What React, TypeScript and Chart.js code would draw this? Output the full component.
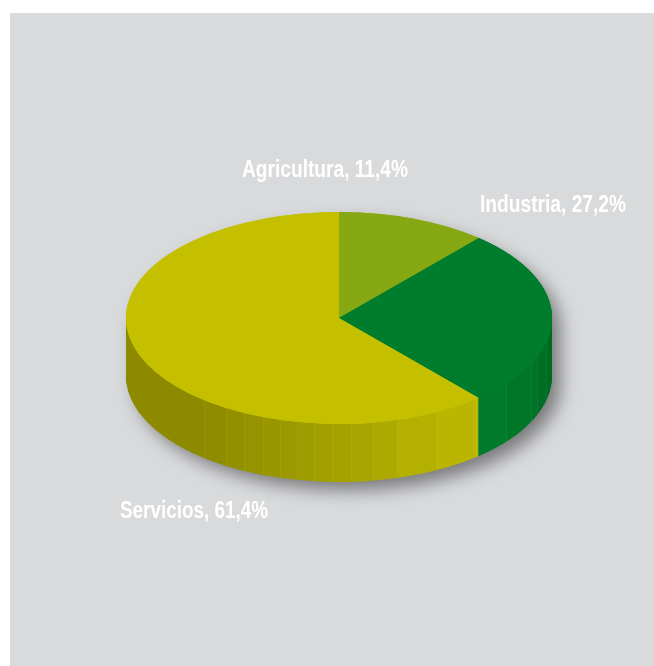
import React, { useEffect, useRef } from "react";
import { Chart, registerables } from "chart.js";

Chart.register(...registerables);

const categories = ["Agricultura", "Industria", "Servicios"];
const shares = [11.4, 27.2, 61.4];
const topColors = ["#86A812", "#007C2D", "#C4C000"];

// Style: faceted wall shades of each slice, as [x pixel where the facet ends, colour].
const yellowFacets: [number, string][] = [
  [205, "#8E8A00"], [227, "#908C00"], [245, "#939000"], [264, "#969300"],
  [281, "#999600"], [298, "#9C9900"], [315, "#9F9C00"], [333, "#A29F00"],
  [352, "#A5A200"], [374, "#A8A500"], [398, "#ACA900"], [438, "#B3B000"],
  [477, "#B9B500"], [552, "#BFBB00"],
];
const greenFacets: [number, string][] = [
  [507, "#007A2B"], [532, "#007629"], [538, "#007126"], [547, "#006E25"], [552, "#006A23"],
];

const WIDTH = 654;
const HEIGHT = 666;
const SQUASH = 0.498;
const DEPTH = 58;
const WALL_LEFT = 126;
const WALL_RIGHT = 552;

const labelPlacement = [
  { x: 242, y: 177, w: 166 },
  { x: 480, y: 212, w: 146 },
  { x: 120, y: 518, w: 148 },
];

const formatShare = (v: number) => `${v.toFixed(1).replace(".", ",")}%`;

const lighten = (hex: string) => {
  const n = parseInt(hex.slice(1), 16);
  const ch = (s: number) => Math.min(255, ((n >> s) & 255) + 9);
  return `rgb(${ch(16)},${ch(8)},${ch(0)})`;
};

const makeWall = (ctx: CanvasRenderingContext2D, facets: [number, string][]) => {
  const span = WALL_RIGHT - WALL_LEFT;
  const g = ctx.createLinearGradient(WALL_LEFT, 0, WALL_RIGHT, 0);
  let from = 0;
  facets.forEach(([end, colour], i) => {
    const to = Math.max(0, Math.min(1, (end - WALL_LEFT) / span));
    const seam = i < facets.length - 1 ? Math.max(from, to - 1 / span) : to;
    g.addColorStop(from, colour);
    g.addColorStop(seam, colour);
    if (seam < to) {
      g.addColorStop(seam, lighten(colour));
      g.addColorStop(to, lighten(colour));
    }
    from = to;
  });
  return g;
};

const pie3d = {
  id: "pie3d",
  beforeDatasetsDraw(chart: any) {
    const ctx: CanvasRenderingContext2D = chart.ctx;
    const arcs: any[] = chart.getDatasetMeta(0).data;
    const { x: cx, y: cy, outerRadius: r } = arcs[0];
    const ry = r * SQUASH;

    // Soft drop shadow of the whole body, falling to the lower right.
    ctx.save();
    ctx.shadowColor = "rgba(0,0,0,0.45)";
    ctx.shadowBlur = 18;
    ctx.shadowOffsetX = 9;
    ctx.shadowOffsetY = 9;
    ctx.fillStyle = "#8E8A00";
    ctx.beginPath();
    ctx.ellipse(cx, cy + 1, r - 1, ry - 1, 0, Math.PI, 2 * Math.PI);
    ctx.ellipse(cx, cy + DEPTH, r - 1, ry - 1, 0, 0, Math.PI);
    ctx.closePath();
    ctx.fill();
    ctx.restore();

    const yellowWall = makeWall(ctx, yellowFacets);
    const greenWall = makeWall(ctx, greenFacets);
    const walls = [yellowWall, greenWall, yellowWall];

    const drawArcs = (offset: number, fill: (i: number) => any) => {
      ctx.save();
      ctx.translate(0, cy + offset);
      ctx.scale(1, SQUASH);
      ctx.translate(0, -cy);
      arcs.forEach((arc, i) => {
        const base = arc.options;
        arc.options = Object.create(base, { backgroundColor: { value: fill(i) } });
        arc.draw(ctx);
        arc.options = base;
      });
      ctx.restore();
    };

    for (let d = DEPTH; d >= 1; d -= 1) drawArcs(d, (i) => walls[i]);
    drawArcs(0, (i) => topColors[i]);
    drawArcs(0, (i) => topColors[i]);
    return false;
  },
  afterDraw(chart: any) {
    const ctx: CanvasRenderingContext2D = chart.ctx;
    ctx.save();
    ctx.fillStyle = "#FFFFFF";
    ctx.font = 'bold 23px "Liberation Sans"';
    ctx.textAlign = "left";
    ctx.textBaseline = "alphabetic";
    categories.forEach((name, i) => {
      const p = labelPlacement[i];
      ctx.fillText(`${name}, ${formatShare(shares[i])}`, p.x, p.y, p.w);
    });
    ctx.restore();
  },
};

export default function App() {
  const ref = useRef<HTMLCanvasElement>(null);
  useEffect(() => {
    const chart = new Chart(ref.current as HTMLCanvasElement, {
      type: "pie",
      data: {
        labels: categories,
        datasets: [{ data: shares, backgroundColor: topColors, borderWidth: 0 }],
      },
      options: {
        animation: false,
        responsive: false,
        rotation: 0,
        radius: 213,
        layout: { padding: { left: 24, bottom: 30 } },
        events: [],
        plugins: { legend: { display: false }, tooltip: { enabled: false } },
      },
      plugins: [pie3d],
    } as any);
    return () => chart.destroy();
  }, []);
  return (
    <div style={{ position: "absolute", left: 0, top: 0, width: WIDTH, height: HEIGHT, background: "#fff", overflow: "hidden" }}>
      <div style={{ position: "absolute", left: 10, top: 13, right: 0, bottom: 0, background: "#D9DADC" }} />
      <canvas ref={ref} width={WIDTH} height={HEIGHT} style={{ position: "absolute", left: 0, top: 0 }} />
    </div>
  );
}
